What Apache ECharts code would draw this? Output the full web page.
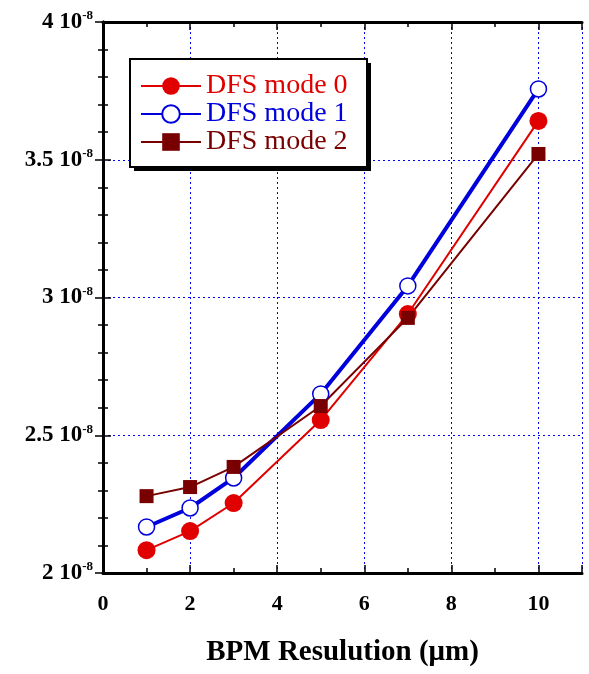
<!DOCTYPE html>
<html>
<head>
<meta charset="utf-8">
<script src="https://cdn.jsdelivr.net/npm/echarts@6/dist/echarts.min.js"></script>
<style>
html,body{margin:0;padding:0;background:#fff;}
#main{width:589px;height:674px;}
</style>
</head>
<body>
<div id="main"></div>
<script>
// BPM resolution (um)
var resolution = [1, 2, 3, 5, 7, 10];
// values in units of 1e-8
var mode0 = [2.083, 2.152, 2.254, 2.555, 2.940, 3.641];
var mode1 = [2.167, 2.236, 2.345, 2.650, 3.042, 3.757];
var mode2 = [2.279, 2.312, 2.385, 2.606, 2.926, 3.521];
var seriesNames = ['DFS mode 0', 'DFS mode 1', 'DFS mode 2'];
var seriesColors = ['#e00000', '#0000dd', '#780000'];

function pairs(ys) {
	return resolution.map(function (x, i) { return [x, ys[i]]; });
}

var chart = echarts.init(document.getElementById('main'));
var serif = 'Liberation Serif';
var blackLine = {show: true, lineStyle: {color: '#000', width: 3}};
var gridLine = {show: true, lineStyle: {color: '#0000ff', width: 1, type: [2, 3]}};
var tickStyle = {color: '#000', width: 1.5};

var option = {
	backgroundColor: '#fff',
	animation: false,
	grid: {left: 103, right: 7, top: 22, bottom: 101, outerBoundsMode: 'none', containLabel: false},
	// legend box and its hard shadow
	graphic: [
		{type: 'rect', z: 5, shape: {x: 134, y: 63, width: 237, height: 108}, style: {fill: '#000'}},
		{type: 'rect', z: 5, shape: {x: 130, y: 59, width: 237, height: 108}, style: {fill: '#fff', stroke: '#000', lineWidth: 2}}
	],
	legend: {
		z: 10,
		left: 140, top: 72,
		orient: 'vertical',
		itemWidth: 60, itemHeight: 22, itemGap: 0,
		padding: 0,
		textStyle: {fontFamily: serif, fontSize: 28, lineHeight: 28},
		data: seriesNames.map(function (n, i) {
			return {name: n, textStyle: {color: seriesColors[i]}};
		})
	},
	xAxis: [{
		type: 'value', min: 0, max: 11, interval: 2,
		axisLine: blackLine,
		axisTick: {inside: true, length: 8, lineStyle: tickStyle},
		minorTick: {show: true, splitNumber: 2, length: 5, lineStyle: tickStyle},
		splitLine: gridLine,
		axisLabel: {margin: 20, showMaxLabel: false, fontFamily: serif, fontWeight: 'bold', fontSize: 22, color: '#000'},
		name: 'BPM Resulution (\u03bcm)', nameLocation: 'middle', nameGap: 65,
		nameTextStyle: {fontFamily: serif, fontWeight: 'bold', fontSize: 29, color: '#000'}
	}, {
		type: 'value', min: 0, max: 11, interval: 2, position: 'top',
		axisLine: blackLine,
		axisTick: {inside: true, length: 8, lineStyle: tickStyle},
		minorTick: {show: true, splitNumber: 2, length: 5, lineStyle: tickStyle},
		splitLine: {show: false}, axisLabel: {show: false}
	}],
	yAxis: [{
		type: 'value', min: 2, max: 4, interval: 0.5,
		axisLine: blackLine,
		axisTick: {inside: true, length: 8, lineStyle: tickStyle},
		minorTick: {show: true, splitNumber: 5, length: 5, lineStyle: tickStyle},
		splitLine: gridLine,
		axisLabel: {
			margin: 10,
			formatter: function (v) { return '{a|' + v + ' 10}{s|-8}'; },
			rich: {
				a: {fontFamily: serif, fontWeight: 'bold', fontSize: 23, color: '#000'},
				s: {fontFamily: serif, fontWeight: 'bold', fontSize: 13, color: '#000', padding: [0, 0, 12, 0]}
			}
		}
	}, {
		type: 'value', min: 2, max: 4, interval: 0.5, position: 'right',
		axisLine: blackLine,
		axisTick: {inside: true, length: 8, lineStyle: tickStyle},
		minorTick: {show: true, splitNumber: 5, length: 5, lineStyle: tickStyle},
		splitLine: {show: false}, axisLabel: {show: false}
	}],
	series: [{
		name: seriesNames[0], type: 'line', data: pairs(mode0),
		symbol: 'circle', symbolSize: 18,
		lineStyle: {color: seriesColors[0], width: 2},
		itemStyle: {color: seriesColors[0]}
	}, {
		name: seriesNames[1], type: 'line', data: pairs(mode1),
		symbol: 'circle', symbolSize: 16,
		lineStyle: {color: seriesColors[1], width: 4},
		itemStyle: {color: '#fff', borderColor: seriesColors[1], borderWidth: 1.5}
	}, {
		name: seriesNames[2], type: 'line', data: pairs(mode2),
		symbol: 'rect', symbolSize: 14,
		lineStyle: {color: seriesColors[2], width: 2},
		itemStyle: {color: seriesColors[2]}
	}]
};
chart.setOption(option);
</script>
</body>
</html>
